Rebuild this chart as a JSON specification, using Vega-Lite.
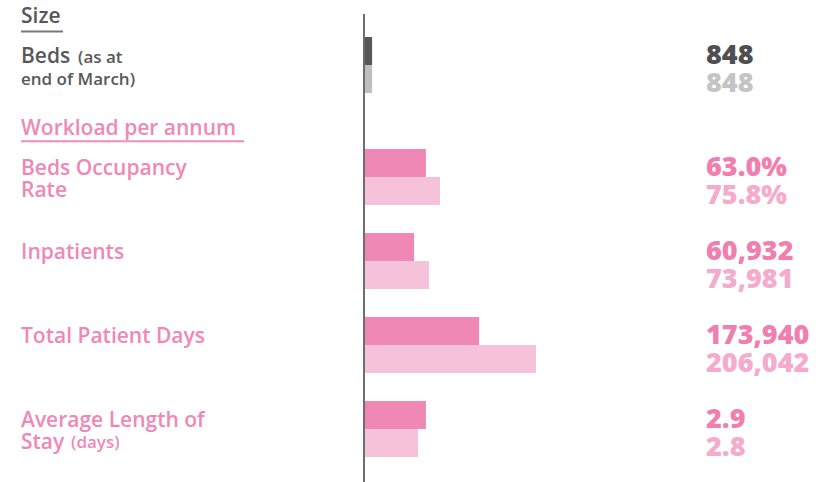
{
  "$schema": "https://vega.github.io/schema/vega-lite/v6.json",
  "width": 798,
  "height": 468,
  "autosize": {"type": "none"},
  "padding": {"left": 21, "top": 14, "right": 0, "bottom": 0},
  "background": "white",
  "config": {"view": {"stroke": null}, "font": "Open Sans"},
  "datasets": {
    "bars": [
      {"metric": "Beds", "slot": "Beds-a", "series": "Size A", "length": 4.7, "label": "848"},
      {"metric": "Beds", "slot": "Beds-b", "series": "Size B", "length": 4.7, "label": "848"},
      {"metric": "Beds Occupancy Rate", "slot": "Occ-a", "series": "Workload A", "length": 36.0, "label": "63.0%"},
      {"metric": "Beds Occupancy Rate", "slot": "Occ-b", "series": "Workload B", "length": 44.2, "label": "75.8%"},
      {"metric": "Inpatients", "slot": "Inp-a", "series": "Workload A", "length": 29.1, "label": "60,932"},
      {"metric": "Inpatients", "slot": "Inp-b", "series": "Workload B", "length": 37.8, "label": "73,981"},
      {"metric": "Total Patient Days", "slot": "TPD-a", "series": "Workload A", "length": 66.9, "label": "173,940"},
      {"metric": "Total Patient Days", "slot": "TPD-b", "series": "Workload B", "length": 100, "label": "206,042"},
      {"metric": "Average Length of Stay", "slot": "ALOS-a", "series": "Workload A", "length": 36.0, "label": "2.9"},
      {"metric": "Average Length of Stay", "slot": "ALOS-b", "series": "Workload B", "length": 31.4, "label": "2.8"}
    ],
    "labels": [
      {"slot": "Size-h", "series": "Size A", "text": "Size", "kind": "header"},
      {"slot": "Work-h", "series": "Workload A", "text": "Workload per annum", "kind": "header"},
      {"slot": "Beds-a", "series": "Size A", "text": "Beds", "kind": "label"},
      {"slot": "Occ-a", "series": "Workload A", "text": "Beds Occupancy\nRate", "kind": "label"},
      {"slot": "Inp-a", "series": "Workload A", "text": "Inpatients", "kind": "label"},
      {"slot": "TPD-a", "series": "Workload A", "text": "Total Patient Days", "kind": "label"},
      {"slot": "ALOS-a", "series": "Workload A", "text": "Average Length of\nStay", "kind": "label"}
    ]
  },
  "layer": [
    {
      "data": {"name": "bars"},
      "mark": {"type": "bar"},
      "encoding": {
        "y": {"field": "slot", "type": "nominal", "axis": null,
          "scale": {"domain": ["Size-h", "Beds-a", "Beds-b", "g1", "Work-h", "Occ-a", "Occ-b", "g2", "Inp-a", "Inp-b", "g3", "TPD-a", "TPD-b", "g4", "ALOS-a", "ALOS-b"], "range": [-5, 443], "paddingInner": 0, "paddingOuter": 0}},
        "x": {"field": "length", "type": "quantitative", "axis": null,
          "scale": {"domain": [0, 100], "range": [343, 515], "nice": false, "zero": true}},
        "color": {"field": "series", "type": "nominal", "legend": null,
          "scale": {"domain": ["Size A", "Size B", "Workload A", "Workload B"], "range": ["#58585a", "#bfbfc1", "#f088b5", "#f6c2da"]}}
      }
    },
    {
      "data": {"name": "bars"},
      "mark": {"type": "text", "align": "left", "baseline": "middle", "dy": 5, "fontSize": 27, "fontWeight": 800},
      "encoding": {
        "y": {"field": "slot", "type": "nominal", "axis": null,
          "scale": {"domain": ["Size-h", "Beds-a", "Beds-b", "g1", "Work-h", "Occ-a", "Occ-b", "g2", "Inp-a", "Inp-b", "g3", "TPD-a", "TPD-b", "g4", "ALOS-a", "ALOS-b"], "range": [-5, 443], "paddingInner": 0, "paddingOuter": 0}},
        "x": {"value": 685},
        "text": {"field": "label"},
        "fill": {"field": "series", "type": "nominal", "legend": null,
          "scale": {"domain": ["Size A", "Size B", "Workload A", "Workload B"], "range": ["#4f4f51", "#c4c4c6", "#f07fb0", "#f5abcc"]}}
      }
    },
    {
      "data": {"name": "labels"},
      "transform": [{"filter": "datum.kind == 'label'"}],
      "mark": {"type": "text", "align": "left", "baseline": "top", "dy": -5, "fontSize": 21, "fontWeight": 600, "lineBreak": "\n", "lineHeight": 22},
      "encoding": {
        "y": {"field": "slot", "type": "nominal", "axis": null,
          "scale": {"domain": ["Size-h", "Beds-a", "Beds-b", "g1", "Work-h", "Occ-a", "Occ-b", "g2", "Inp-a", "Inp-b", "g3", "TPD-a", "TPD-b", "g4", "ALOS-a", "ALOS-b"], "range": [-5, 443], "paddingInner": 0, "paddingOuter": 0}},
        "x": {"value": 0},
        "text": {"field": "text"},
        "color": {"field": "series", "type": "nominal", "legend": null}
      }
    },
    {
      "data": {"name": "labels"},
      "transform": [{"filter": "datum.kind == 'header'"}],
      "mark": {"type": "text", "align": "left", "baseline": "middle", "dy": -6, "fontSize": 21, "fontWeight": 600},
      "encoding": {
        "y": {"field": "slot", "type": "nominal", "axis": null,
          "scale": {"domain": ["Size-h", "Beds-a", "Beds-b", "g1", "Work-h", "Occ-a", "Occ-b", "g2", "Inp-a", "Inp-b", "g3", "TPD-a", "TPD-b", "g4", "ALOS-a", "ALOS-b"], "range": [-5, 443], "paddingInner": 0, "paddingOuter": 0}},
        "x": {"value": 0},
        "text": {"field": "text"},
        "color": {"field": "series", "type": "nominal", "legend": null}
      }
    },
    {
      "data": {"values": [{"slot": "Beds-a", "series": "Size A", "text": "(as at"}]},
      "mark": {"type": "text", "align": "left", "baseline": "top", "dy": -1, "fontSize": 17, "fontWeight": 600},
      "encoding": {
        "y": {"field": "slot", "type": "nominal", "axis": null,
          "scale": {"domain": ["Size-h", "Beds-a", "Beds-b", "g1", "Work-h", "Occ-a", "Occ-b", "g2", "Inp-a", "Inp-b", "g3", "TPD-a", "TPD-b", "g4", "ALOS-a", "ALOS-b"], "range": [-5, 443], "paddingInner": 0, "paddingOuter": 0}},
        "x": {"value": 57},
        "text": {"field": "text"},
        "color": {"field": "series", "type": "nominal", "legend": null}
      }
    },
    {
      "data": {"values": [{"slot": "Beds-a", "series": "Size A", "text": "end of March)"}]},
      "mark": {"type": "text", "align": "left", "baseline": "top", "dy": 21, "fontSize": 17, "fontWeight": 600},
      "encoding": {
        "y": {"field": "slot", "type": "nominal", "axis": null,
          "scale": {"domain": ["Size-h", "Beds-a", "Beds-b", "g1", "Work-h", "Occ-a", "Occ-b", "g2", "Inp-a", "Inp-b", "g3", "TPD-a", "TPD-b", "g4", "ALOS-a", "ALOS-b"], "range": [-5, 443], "paddingInner": 0, "paddingOuter": 0}},
        "x": {"value": 0},
        "text": {"field": "text"},
        "color": {"field": "series", "type": "nominal", "legend": null}
      }
    },
    {
      "data": {"values": [{"slot": "ALOS-a", "series": "Workload A", "text": "(days)"}]},
      "mark": {"type": "text", "align": "left", "baseline": "top", "dy": 20, "fontSize": 17, "fontWeight": 600},
      "encoding": {
        "y": {"field": "slot", "type": "nominal", "axis": null,
          "scale": {"domain": ["Size-h", "Beds-a", "Beds-b", "g1", "Work-h", "Occ-a", "Occ-b", "g2", "Inp-a", "Inp-b", "g3", "TPD-a", "TPD-b", "g4", "ALOS-a", "ALOS-b"], "range": [-5, 443], "paddingInner": 0, "paddingOuter": 0}},
        "x": {"value": 50},
        "text": {"field": "text"},
        "color": {"field": "series", "type": "nominal", "legend": null}
      }
    },
    {
      "data": {"values": [{"slot": "Size-h"}]},
      "mark": {"type": "rule", "color": "#7a7a7a", "strokeWidth": 2},
      "encoding": {
        "y": {"field": "slot", "type": "nominal", "axis": null, "bandPosition": 0.8,
          "scale": {"domain": ["Size-h", "Beds-a", "Beds-b", "g1", "Work-h", "Occ-a", "Occ-b", "g2", "Inp-a", "Inp-b", "g3", "TPD-a", "TPD-b", "g4", "ALOS-a", "ALOS-b"], "range": [-5, 443], "paddingInner": 0, "paddingOuter": 0}},
        "x": {"value": 0},
        "x2": {"value": 42}
      }
    },
    {
      "data": {"values": [{"slot": "Work-h"}]},
      "mark": {"type": "rule", "color": "#f28cb8", "strokeWidth": 2},
      "encoding": {
        "y": {"field": "slot", "type": "nominal", "axis": null, "bandPosition": 0.72,
          "scale": {"domain": ["Size-h", "Beds-a", "Beds-b", "g1", "Work-h", "Occ-a", "Occ-b", "g2", "Inp-a", "Inp-b", "g3", "TPD-a", "TPD-b", "g4", "ALOS-a", "ALOS-b"], "range": [-5, 443], "paddingInner": 0, "paddingOuter": 0}},
        "x": {"value": 0},
        "x2": {"value": 223}
      }
    },
    {
      "data": {"values": [{"origin": 0}]},
      "mark": {"type": "rule", "color": "#6e6e6e", "strokeWidth": 2},
      "encoding": {
        "x": {"field": "origin", "type": "quantitative"}
      }
    }
  ]
}
